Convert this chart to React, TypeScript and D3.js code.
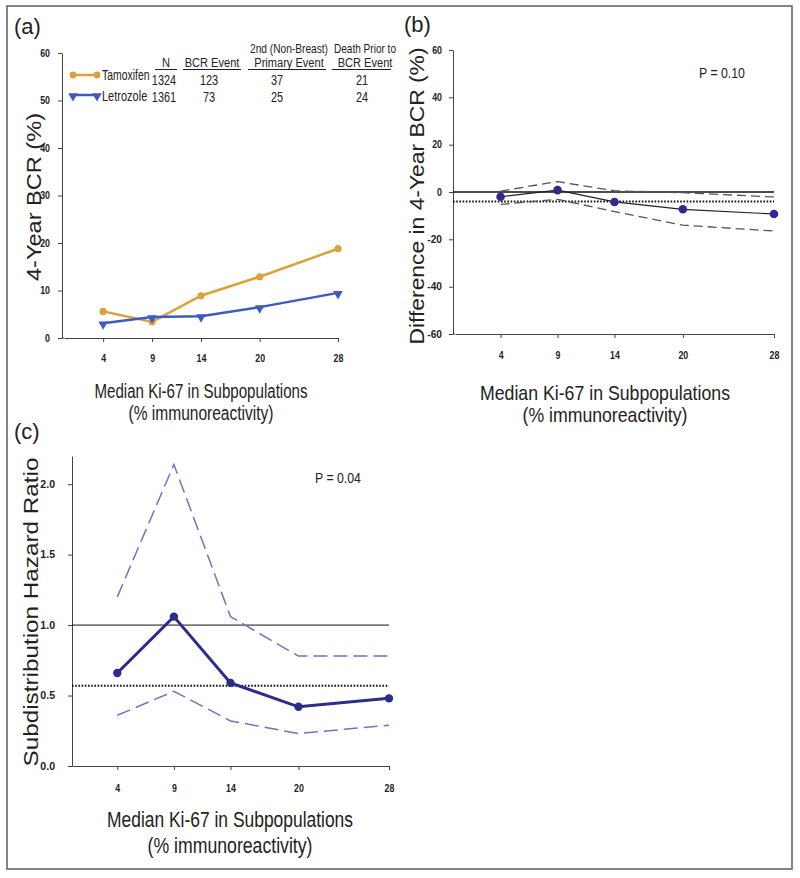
import React, { useEffect, useRef } from 'react';
import * as d3 from 'd3';

// median Ki-67 of each subpopulation
const ki67 = [4, 9, 14, 20, 28];

// (a) 4-year BCR (%)
const tamoxifenBCR = [5.6, 3.4, 8.9, 12.9, 18.8];
const letrozoleBCR = [3.1, 4.4, 4.6, 6.5, 9.5];

// legend table of (a)
const groups = ['Tamoxifen', 'Letrozole'];
const groupN = ['1324', '1361'];
const bcrEvents = ['123', '73'];
const secondPrimary = ['37', '25'];
const deathPrior = ['21', '24'];

// (b) difference in 4-year BCR (%)
const diffEst = [-2.0, 0.8, -4.2, -7.3, -9.3];
const diffUpper = [0.4, 4.4, 0.5, -0.3, -2.1];
const diffLower = [-5.2, -3.1, -8.3, -14.0, -16.5];
const diffOverall = -4.0;

// (c) subdistribution hazard ratio
const hrEst = [0.66, 1.06, 0.59, 0.42, 0.48];
const hrUpper = [1.2, 2.14, 1.06, 0.78, 0.78];
const hrLower = [0.36, 0.53, 0.32, 0.23, 0.29];
const hrOverall = 0.57;

const ticksA = [0, 10, 20, 30, 40, 50, 60];
const ticksB = [-60, -40, -20, 0, 20, 40, 60];
const ticksC = [0, 0.5, 1.0, 1.5, 2.0];

const SANS = "'Liberation Sans', Arial, sans-serif";

const xA = d3.scaleLinear().domain([0, 28]).range([64, 338]);
const yA = d3.scaleLinear().domain([0, 60]).range([338, 53]);
const xB = d3.scaleLinear().domain([0, 28]).range([455, 774]);
const yB = d3.scaleLinear().domain([-60, 60]).range([334, 50]);
const xC = d3.scaleLinear().domain([0, 28]).range([72, 389]);
const yC = d3.scaleLinear().domain([0, 2.2]).range([766, 456]);

const intFmt = (d: number) => String(d);
const panels = [
  { id: 'a', x: xA, y: yA, axisX: 62, ticks: ticksA, fmt: intFmt, yPad: 8, xPad: 13 },
  { id: 'b', x: xB, y: yB, axisX: 453, ticks: ticksB, fmt: intFmt, yPad: 7, xPad: 14 },
  { id: 'c', x: xC, y: yC, axisX: 72, ticks: ticksC, fmt: (d: number) => d.toFixed(1), yPad: 13, xPad: 15 },
];

const pts = (xs: number[], ys: number[]) => xs.map((k, i) => [k, ys[i]] as [number, number]);

// condensed text (the figure uses a narrow face that is not installed)
const NText = ({ x, y, anchor = 'start', size = 14, sx = 0.78, children }: any) => (
  <text transform={`translate(${x},${y}) scale(${sx},1)`} textAnchor={anchor}
    fontFamily={SANS} fontSize={size} fill="#222">{children}</text>
);

const App = () => {
  const ref = useRef<SVGSVGElement>(null);

  useEffect(() => {
    const svg = d3.select(ref.current);
    panels.forEach(p => {
      const g = svg.select(`.axes-${p.id}`);
      g.selectAll('*').remove();
      const yAxis = d3.axisLeft(p.y).tickValues(p.ticks).tickFormat(p.fmt as any)
        .tickSize(4).tickSizeOuter(0).tickPadding(p.yPad);
      g.append('g').attr('transform', `translate(${p.axisX},0)`).call(yAxis as any);
      const xAxis = d3.axisBottom(p.x).tickValues(ki67).tickFormat(intFmt as any)
        .tickSize(4).tickSizeOuter(0).tickPadding(p.xPad);
      const xg = g.append('g').attr('transform', `translate(0,${p.y.range()[0]})`).call(xAxis as any);
      xg.append('line').attr('x1', p.axisX).attr('x2', p.x.range()[0]).attr('stroke', '#444');
      g.selectAll('path.domain').attr('stroke', '#444');
      g.selectAll('.tick line').attr('stroke', '#444');
      g.selectAll<SVGTextElement, number>('.tick text')
        .attr('font-family', SANS)
        .attr('font-size', 10)
        .attr('font-weight', 'bold')
        .attr('fill', '#222')
        .attr('textLength', function () { return (this.textContent || '').length * 4.9; })
        .attr('lengthAdjust', 'spacingAndGlyphs');
    });
  }, []);

  const lineA = d3.line<[number, number]>().x(d => xA(d[0])).y(d => yA(d[1]));
  const lineB = d3.line<[number, number]>().x(d => xB(d[0])).y(d => yB(d[1]));
  const lineC = d3.line<[number, number]>().x(d => xC(d[0])).y(d => yC(d[1]));
  const tri = d3.symbol().type(d3.symbolTriangle).size(40)();

  const orange = '#dba23a';
  const blue = '#3d5ac2';
  const navy = '#2c2c8c';
  const lavender = '#7272c4';

  const xLabel = (cx: number, y1: number, y2: number, w1: number, w2: number, fs: number) => (
    <g fontFamily={SANS} fontSize={fs} fill="#222" textAnchor="middle">
      <text x={cx} y={y1} textLength={w1} lengthAdjust="spacingAndGlyphs">Median Ki-67 in Subpopulations</text>
      <text x={cx} y={y2} textLength={w2} lengthAdjust="spacingAndGlyphs">(% immunoreactivity)</text>
    </g>
  );

  const yLabel = (x: number, cy: number, len: number, fs: number, label: string) => (
    <text transform={`translate(${x},${cy}) rotate(-90)`} textAnchor="middle" fontFamily={SANS}
      fontSize={fs} fill="#222" textLength={len} lengthAdjust="spacingAndGlyphs">{label}</text>
  );

  // legend table columns
  const cols = [
    { cx: 166, head1: '', w1: 0, head2: 'N', x0: 155, x1: 177, vals: groupN, vx: 164 },
    { cx: 212, head1: '', w1: 0, head2: 'BCR Event', x0: 183, x1: 241, vals: bcrEvents, vx: 209 },
    { cx: 289, head1: '2nd (Non-Breast)', w1: 78, head2: 'Primary Event', x0: 248, x1: 326, vals: secondPrimary, vx: 277 },
    { cx: 365, head1: 'Death Prior to', w1: 62, head2: 'BCR Event', x0: 332, x1: 391, vals: deathPrior, vx: 362 },
  ];

  return (
    <svg ref={ref} width={800} height={878} style={{ position: 'absolute', left: 0, top: 0, background: '#fff' }}>
      <rect x={7} y={6} width={785} height={863} fill="none" stroke="#666" strokeWidth={1.6} />

      {/* panel labels */}
      <g fontFamily={SANS} fontSize={22} fill="#222">
        <text x={14} y={34}>(a)</text>
        <text x={404} y={32}>(b)</text>
        <text x={14} y={439}>(c)</text>
      </g>

      <g className="axes-a" />
      <g className="axes-b" />
      <g className="axes-c" />

      {/* (a) */}
      {yLabel(41, 197, 168, 20, '4-Year BCR (%)')}
      {xLabel(201, 398, 420, 213, 145, 20)}
      <path d={lineA(pts(ki67, tamoxifenBCR)) || ''} fill="none" stroke={orange} strokeWidth={2.5} />
      {ki67.map((k, i) => (
        <circle key={'t' + k} cx={xA(k)} cy={yA(tamoxifenBCR[i])} r={3.6} fill={orange} />
      ))}
      <path d={lineA(pts(ki67, letrozoleBCR)) || ''} fill="none" stroke={blue} strokeWidth={2.5} />
      {ki67.map((k, i) => (
        <path key={'l' + k} d={tri || ''} transform={`translate(${xA(k)},${yA(letrozoleBCR[i]) + 1}) rotate(180)`} fill={blue} />
      ))}

      {/* (a) legend */}
      <g>
        <line x1={73} x2={97} y1={75} y2={75} stroke={orange} strokeWidth={2.5} />
        <circle cx={73} cy={75} r={3.4} fill={orange} />
        <circle cx={97} cy={75} r={3.4} fill={orange} />
        <line x1={73} x2={97} y1={95} y2={95} stroke={blue} strokeWidth={2.5} />
        <path d={tri || ''} transform="translate(73,96) rotate(180)" fill={blue} />
        <path d={tri || ''} transform="translate(97,96) rotate(180)" fill={blue} />
        <NText x={102} y={80} size={14.5} sx={0.72}>{groups[0]}</NText>
        <NText x={102} y={101} size={14.5} sx={0.76}>{groups[1]}</NText>
        {cols.map(c => (
          <g key={c.head2 + c.cx}>
            {c.head1 && (
              <text x={c.cx} y={53} textAnchor="middle" fontFamily={SANS} fontSize={13.5} fill="#222"
                textLength={c.w1} lengthAdjust="spacingAndGlyphs">{c.head1}</text>
            )}
            <NText x={c.cx} y={67} anchor="middle" size={13.5} sx={0.82}>{c.head2}</NText>
            <line x1={c.x0} x2={c.x1} y1={69.5} y2={69.5} stroke="#222" strokeWidth={1} />
            {c.vals.map((v, i) => (
              <NText key={v + i} x={c.vx} y={i === 0 ? 85 : 102} anchor="middle">{v}</NText>
            ))}
          </g>
        ))}
      </g>

      {/* (b) */}
      {yLabel(424, 196, 297, 21, 'Difference in 4-Year BCR (%)')}
      {xLabel(605, 400, 422, 250, 165, 21)}
      <NText x={699} y={78} size={15} sx={0.82}>P = 0.10</NText>
      <line x1={453} x2={xB(28)} y1={yB(0)} y2={yB(0)} stroke="#111" strokeWidth={1.5} />
      <line x1={453} x2={xB(28)} y1={yB(diffOverall)} y2={yB(diffOverall)} stroke="#111" strokeWidth={2} strokeDasharray="1.6,1.6" />
      <path d={lineB(pts(ki67, diffUpper)) || ''} fill="none" stroke="#555" strokeWidth={1.3} strokeDasharray="9,5" />
      <path d={lineB(pts(ki67, diffLower)) || ''} fill="none" stroke="#555" strokeWidth={1.3} strokeDasharray="9,5" />
      <path d={lineB(pts(ki67, diffEst)) || ''} fill="none" stroke="#222" strokeWidth={1.2} />
      {ki67.map((k, i) => (
        <circle key={'b' + k} cx={xB(k)} cy={yB(diffEst[i])} r={4.3} fill={navy} />
      ))}

      {/* (c) */}
      {yLabel(38, 612, 309, 21, 'Subdistribution Hazard Ratio')}
      {xLabel(230, 827, 853, 246, 165, 22)}
      <NText x={315} y={483} size={15} sx={0.82}>P  = 0.04</NText>
      <line x1={72} x2={xC(28)} y1={yC(1)} y2={yC(1)} stroke="#111" strokeWidth={1} />
      <line x1={72} x2={xC(28)} y1={yC(hrOverall)} y2={yC(hrOverall)} stroke="#111" strokeWidth={2} strokeDasharray="1.6,1.6" />
      <path d={lineC(pts(ki67, hrUpper)) || ''} fill="none" stroke={lavender} strokeWidth={1.5} strokeDasharray="14,6" />
      <path d={lineC(pts(ki67, hrLower)) || ''} fill="none" stroke={lavender} strokeWidth={1.5} strokeDasharray="14,6" />
      <path d={lineC(pts(ki67, hrEst)) || ''} fill="none" stroke={navy} strokeWidth={3} />
      {ki67.map((k, i) => (
        <circle key={'c' + k} cx={xC(k)} cy={yC(hrEst[i])} r={4.2} fill={navy} />
      ))}
    </svg>
  );
};

export default App;
